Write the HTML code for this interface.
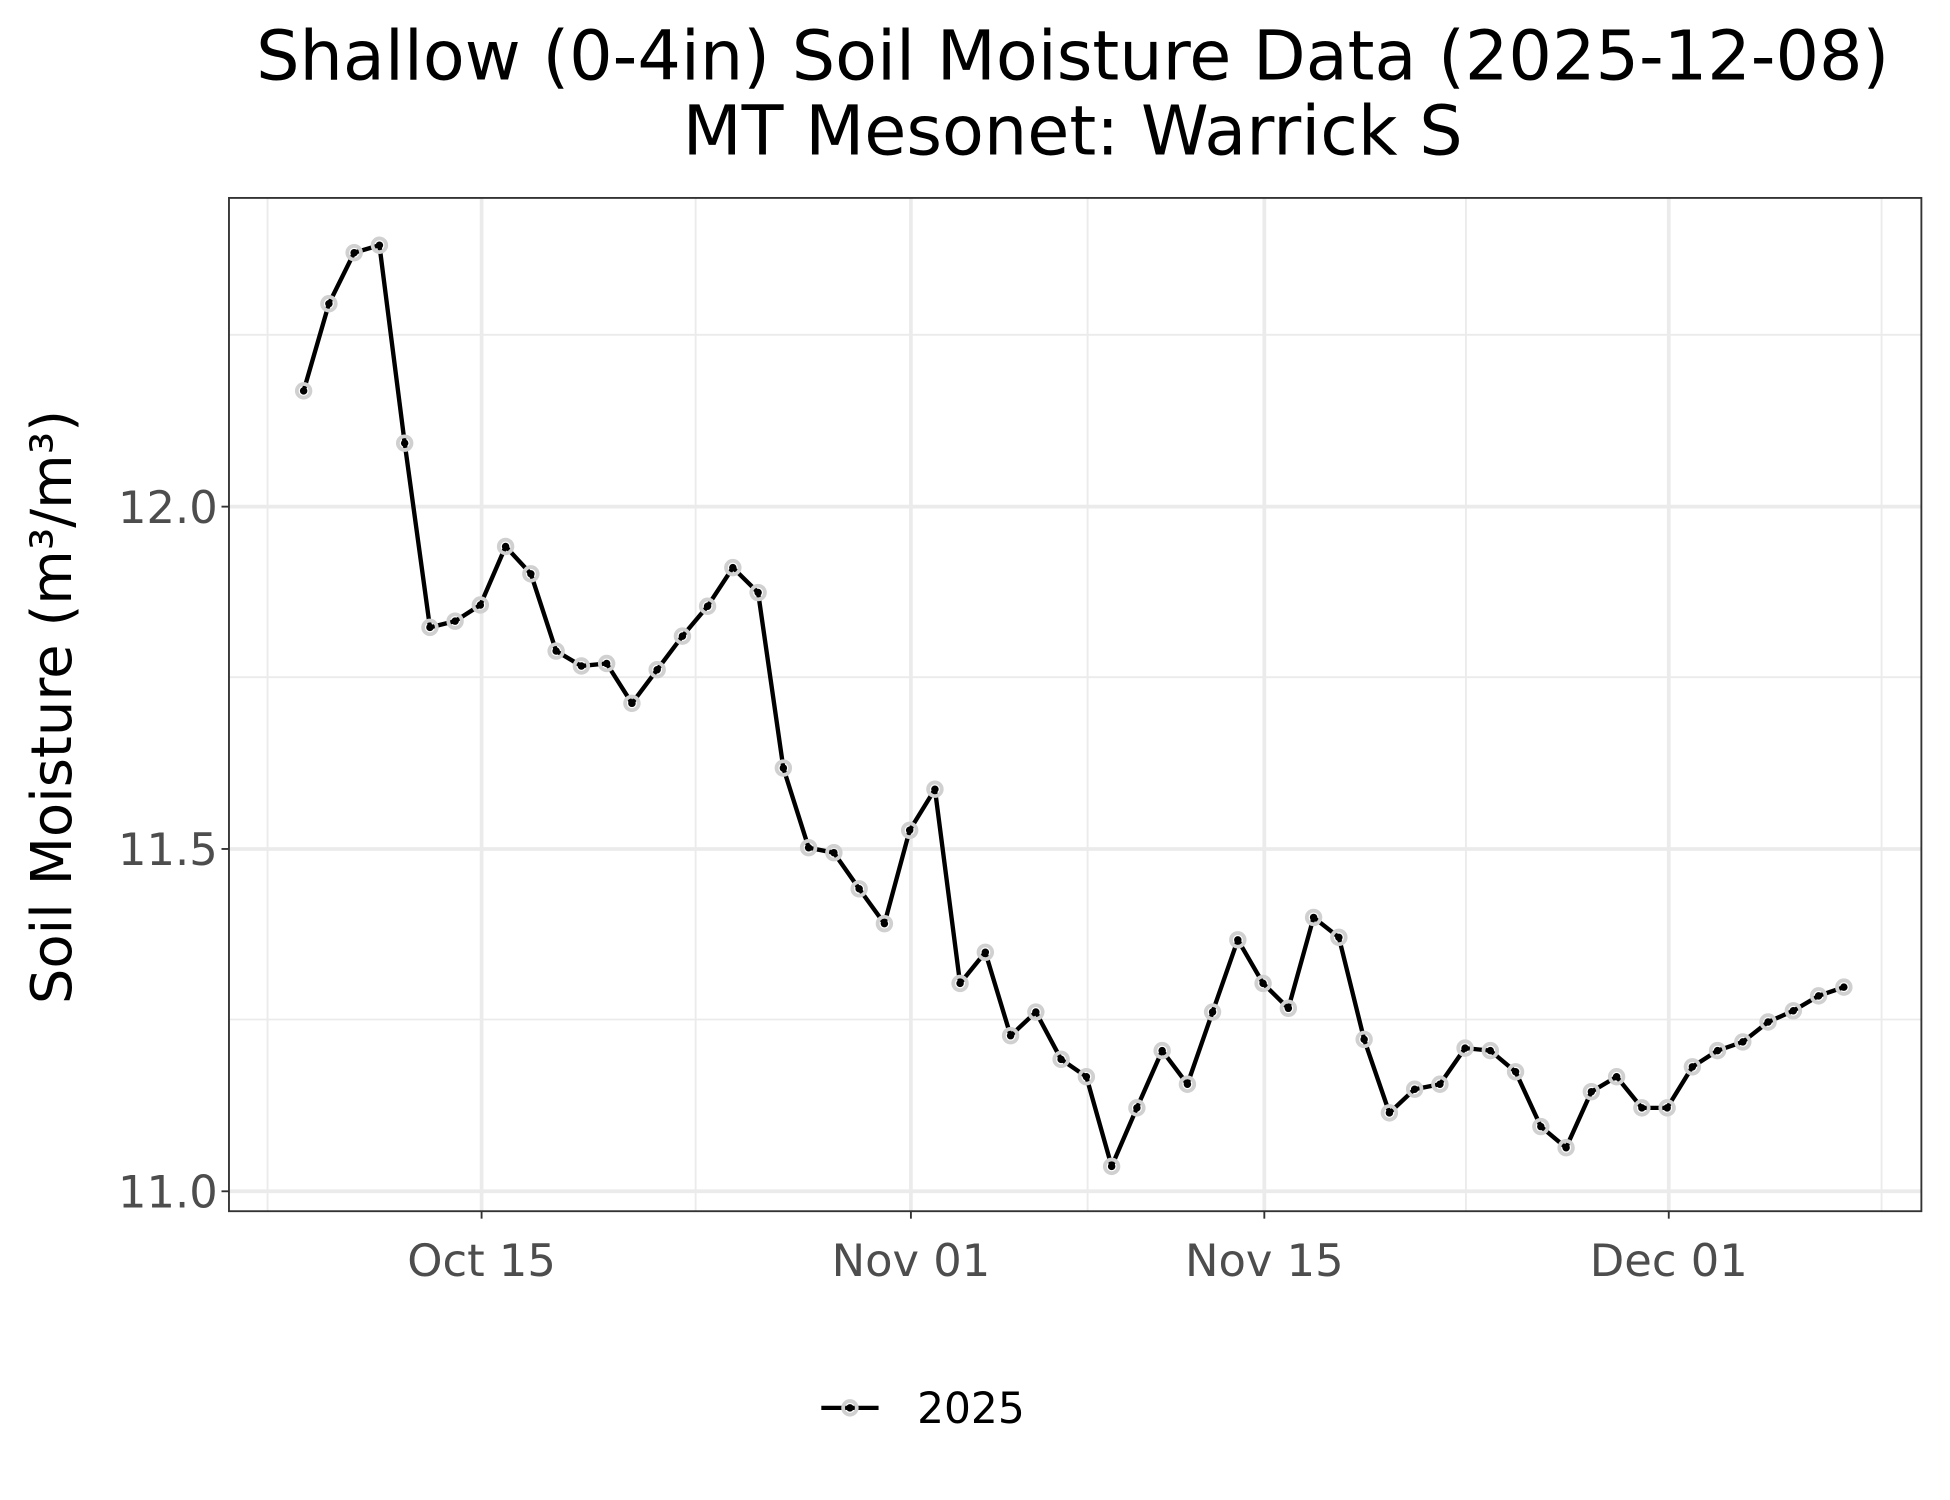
<!DOCTYPE html>
<html><head><meta charset="utf-8"><style>html,body{margin:0;padding:0;background:#fff}svg{display:block}</style></head>
<body>
<svg width="1950" height="1500" viewBox="0 0 1567 1205" preserveAspectRatio="none" xmlns="http://www.w3.org/2000/svg" font-family="'DejaVu Sans','Liberation Sans',sans-serif">
<defs>
<marker id="m" markerUnits="userSpaceOnUse" markerWidth="16" markerHeight="16" refX="8" refY="8" overflow="visible">
<circle cx="8" cy="8" r="5.5" fill="none" stroke="#d0d0d0" stroke-width="3"/>
<circle cx="8" cy="8" r="3" fill="#000"/>
</marker>
</defs>
<rect width="1567" height="1205" fill="#fff"/>
<text x="862" y="64" font-size="55" text-anchor="middle">Shallow (0-4in) Soil Moisture Data (2025-12-08)</text>
<text x="862" y="124" font-size="55" text-anchor="middle">MT Mesonet: Warrick S</text>
<g stroke="#ebebeb" stroke-width="1.5">
<line x1="184" x2="1544" y1="269" y2="269"/><line x1="184" x2="1544" y1="544" y2="544"/><line x1="184" x2="1544" y1="819" y2="819"/>
<line x1="215" x2="215" y1="159" y2="973"/><line x1="559" x2="559" y1="159" y2="973"/><line x1="874" x2="874" y1="159" y2="973"/><line x1="1178" x2="1178" y1="159" y2="973"/><line x1="1512" x2="1512" y1="159" y2="973"/>
</g>
<g stroke="#ebebeb" stroke-width="3">
<line x1="184" x2="1544" y1="407" y2="407"/><line x1="184" x2="1544" y1="682" y2="682"/><line x1="184" x2="1544" y1="957" y2="957"/>
<line x1="387" x2="387" y1="159" y2="973"/><line x1="732" x2="732" y1="159" y2="973"/><line x1="1016" x2="1016" y1="159" y2="973"/><line x1="1341" x2="1341" y1="159" y2="973"/>
</g>
<rect x="184" y="159" width="1360" height="814" fill="none" stroke="#333" stroke-width="1.5"/>
<g stroke="#333" stroke-width="1.5">
<line x1="178" x2="184" y1="407" y2="407"/><line x1="178" x2="184" y1="682" y2="682"/><line x1="178" x2="184" y1="957" y2="957"/>
<line x1="387" x2="387" y1="973" y2="979"/><line x1="732" x2="732" y1="973" y2="979"/><line x1="1016" x2="1016" y1="973" y2="979"/><line x1="1341" x2="1341" y1="973" y2="979"/>
</g>
<g font-size="36" fill="#4d4d4d">
<text x="175" y="420" text-anchor="end">12.0</text><text x="175" y="695" text-anchor="end">11.5</text><text x="175" y="970" text-anchor="end">11.0</text>
<text x="387" y="1025" text-anchor="middle">Oct 15</text><text x="732" y="1025" text-anchor="middle">Nov 01</text><text x="1016" y="1025" text-anchor="middle">Nov 15</text><text x="1341" y="1025" text-anchor="middle">Dec 01</text>
</g>
<text transform="translate(57,568) rotate(-90)" font-size="45" text-anchor="middle">Soil Moisture (m³/m³)</text>
<polyline fill="none" stroke="#000" stroke-width="3.5" stroke-linejoin="round" marker-start="url(#m)" marker-mid="url(#m)" marker-end="url(#m)" points="244.0,314 264.3,244 284.6,203 304.9,197 325.2,356 345.5,504 365.7,499 386.0,486 406.3,439 426.6,461 446.9,523 467.2,535 487.5,533 507.8,565 528.1,538 548.4,511 568.6,487 588.9,456 609.2,476 629.5,617 649.8,681 670.1,685 690.4,714 710.7,742 731.0,667 751.3,634 771.5,790 791.8,765 812.1,832 832.4,813 852.7,851 873.0,865 893.3,937 913.6,890 933.9,844 954.2,871 974.4,813 994.7,755 1015.0,790 1035.3,810 1055.6,737 1075.9,753 1096.2,835 1116.5,894 1136.8,875 1157.1,871 1177.3,842 1197.6,844 1217.9,861 1238.2,905 1258.5,922 1278.8,877 1299.1,865 1319.4,890 1339.7,890 1360.0,857 1380.2,844 1400.5,837 1420.8,821 1441.1,812 1461.4,800 1481.7,793"/>
<line x1="660" x2="706" y1="1131" y2="1131" stroke="#000" stroke-width="3.5"/>
<circle cx="683" cy="1131" r="5.5" fill="none" stroke="#d0d0d0" stroke-width="3"/><circle cx="683" cy="1131" r="3" fill="#000"/>
<text x="737" y="1143" font-size="34">2025</text>
</svg>
</body></html>
